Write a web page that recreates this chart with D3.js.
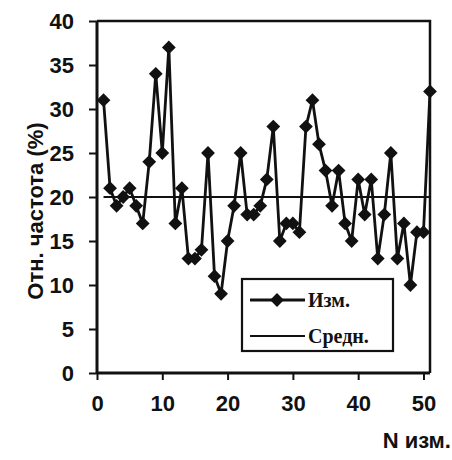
<!DOCTYPE html>
<html>
<head>
<meta charset="utf-8">
<script src="https://cdn.jsdelivr.net/npm/d3@7"></script>
<style>
  body { margin: 0; background: #fff; }
  .tick text { font-family: "Liberation Sans", Arial, sans-serif; font-weight: bold; }
</style>
</head>
<body>
<div id="chart"></div>
<script>
// measurement number and relative frequency (%)
var nValues = d3.range(1, 52);
var freqValues = [31, 21, 19, 20, 21, 19, 17, 24, 34, 25,
                  37, 17, 21, 13, 13, 14, 25, 11, 9, 15,
                  19, 25, 18, 18, 19, 22, 28, 15, 17, 17,
                  16, 28, 31, 26, 23, 19, 23, 17, 15, 22,
                  18, 22, 13, 18, 25, 13, 17, 10, 16, 16,
                  32];
var meanValue = [20];
var yTicks = [0, 5, 10, 15, 20, 25, 30, 35, 40];
var xTicks = [0, 10, 20, 30, 40, 50];
var legendLabels = ["Изм.", "Средн."];

var width = 452, height = 460;
var margin = {top: 21, right: 22, bottom: 87, left: 97};

var svg = d3.select("#chart").append("svg")
    .attr("width", width)
    .attr("height", height);

var x = d3.scaleLinear().domain([0, 51]).range([margin.left, width - margin.right]);
var y = d3.scaleLinear().domain([0, 40]).range([height - margin.bottom, margin.top]);

// frame (top + right)
svg.append("path")
    .attr("d", "M" + x(0) + "," + y(40) + "H" + x(51) + "V" + y(0))
    .attr("fill", "none")
    .attr("stroke", "#111")
    .attr("stroke-width", 2.5);

// axes
var yAxis = svg.append("g")
    .attr("transform", "translate(" + x(0) + ",0)")
    .call(d3.axisLeft(y).tickValues(yTicks).tickSize(8).tickPadding(15));
var xAxis = svg.append("g")
    .attr("transform", "translate(0," + y(0) + ")")
    .call(d3.axisBottom(x).tickValues(xTicks).tickSize(7).tickPadding(15));

[yAxis, xAxis].forEach(function (ax) {
    ax.select(".domain").attr("stroke", "#111").attr("stroke-width", 3);
    ax.selectAll(".tick line").attr("stroke", "#111").attr("stroke-width", 2);
    ax.selectAll(".tick text").attr("font-size", "22px").attr("fill", "#111");
});
yAxis.select(".domain").attr("d", "M0," + y(0) + "V" + y(40));
xAxis.select(".domain").attr("d", "M" + x(0) + ",0H" + x(51));

// mean line
svg.append("line")
    .attr("x1", x(1)).attr("x2", x(51))
    .attr("y1", y(meanValue[0])).attr("y2", y(meanValue[0]))
    .attr("stroke", "#111")
    .attr("stroke-width", 2);

// measured series
var line = d3.line()
    .x(function (d, i) { return x(nValues[i]); })
    .y(function (d) { return y(d); });

svg.append("path")
    .datum(freqValues)
    .attr("d", line)
    .attr("fill", "none")
    .attr("stroke", "#111")
    .attr("stroke-width", 2.8)
    .attr("stroke-linejoin", "miter");

var diamond = d3.symbol().type(d3.symbolSquare).size(95);

svg.selectAll(".pt")
    .data(freqValues)
    .enter().append("path")
    .attr("class", "pt")
    .attr("d", diamond)
    .attr("transform", function (d, i) {
        return "translate(" + x(nValues[i]) + "," + y(d) + ") rotate(45)";
    })
    .attr("fill", "#111");

// legend
var lg = svg.append("g").attr("transform", "translate(242,279)");
lg.append("rect")
    .attr("width", 151).attr("height", 72)
    .attr("fill", "#fff")
    .attr("stroke", "#111")
    .attr("stroke-width", 2.2);
lg.append("line")
    .attr("x1", 8).attr("x2", 63).attr("y1", 21).attr("y2", 21)
    .attr("stroke", "#111").attr("stroke-width", 2.8);
lg.append("path")
    .attr("d", diamond)
    .attr("transform", "translate(35,21) rotate(45)")
    .attr("fill", "#111");
lg.append("line")
    .attr("x1", 8).attr("x2", 63).attr("y1", 57).attr("y2", 57)
    .attr("stroke", "#111").attr("stroke-width", 2);
lg.selectAll("text")
    .data(legendLabels)
    .enter().append("text")
    .attr("x", 66)
    .attr("y", function (d, i) { return 28 + i * 36; })
    .attr("font-family", "'Liberation Serif', 'Times New Roman', serif")
    .attr("font-weight", "bold")
    .attr("font-size", "20px")
    .attr("fill", "#111")
    .text(function (d) { return d; });

// axis titles
svg.append("text")
    .attr("transform", "translate(43," + (y(20) + 14) + ") rotate(-90)")
    .attr("text-anchor", "middle")
    .attr("font-family", "'Liberation Sans', Arial, sans-serif")
    .attr("font-weight", "bold")
    .attr("font-size", "22px")
    .attr("fill", "#111")
    .text("Отн. частота (%)");

svg.append("text")
    .attr("x", 451)
    .attr("y", 448)
    .attr("text-anchor", "end")
    .attr("font-family", "'Liberation Sans', Arial, sans-serif")
    .attr("font-weight", "bold")
    .attr("font-size", "22px")
    .attr("fill", "#111")
    .text("N изм.");
</script>
</body>
</html>
